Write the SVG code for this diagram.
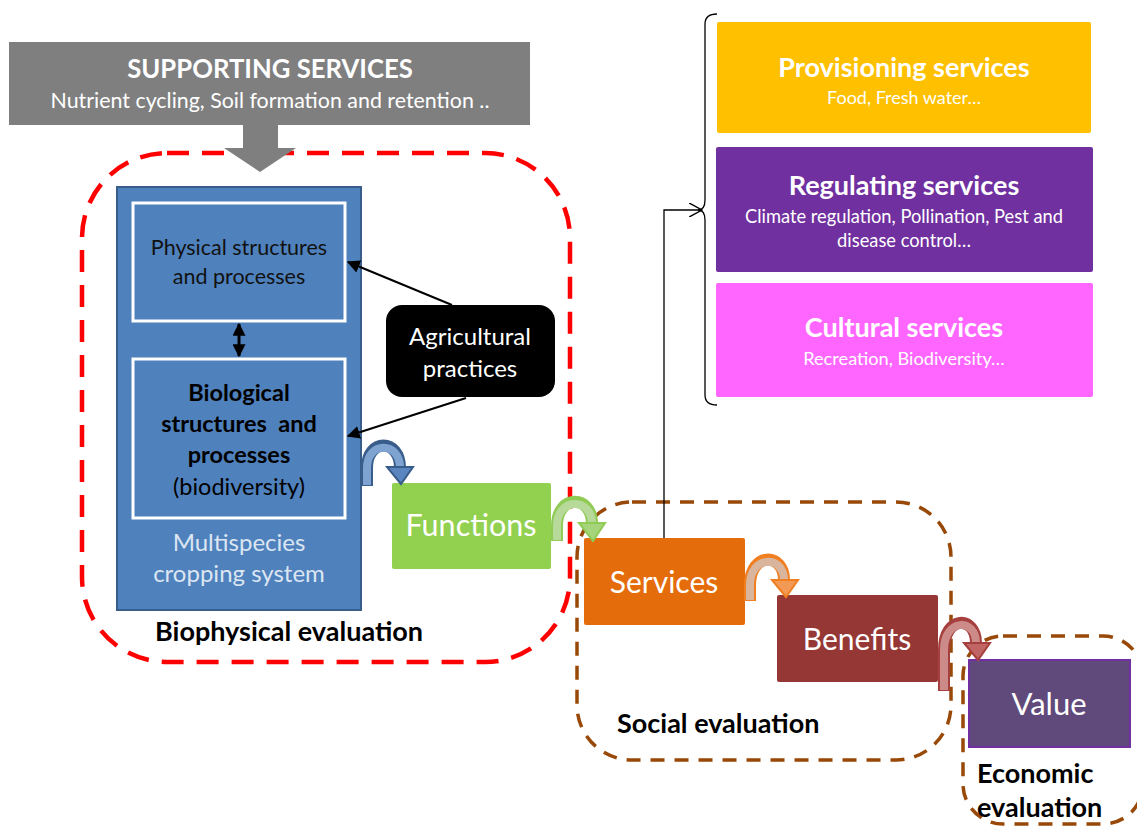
<svg xmlns="http://www.w3.org/2000/svg" width="1137" height="826" viewBox="0 0 1137 826">
<style>
text{font-family:Lato,"Open Sans","Liberation Sans",sans-serif;}
.w{fill:#fff}
.c{text-anchor:middle}
.b{font-weight:bold}
.conn{stroke:#000;stroke-width:2;fill:none}
.redd{fill:none;stroke:#FF0000;stroke-width:4.5;stroke-dasharray:22 13}
.brd{fill:none;stroke:#984807;stroke-width:3.5;stroke-dasharray:14 10}
</style>
<defs>
<marker id="ah" viewBox="0 0 10 10" refX="9" refY="5" markerWidth="13" markerHeight="13" markerUnits="userSpaceOnUse" orient="auto-start-reverse"><path d="M0,0 L10,5 L0,10 z" fill="#000"/></marker>
<marker id="oa" viewBox="0 0 12 12" refX="11" refY="6" markerWidth="14" markerHeight="14" markerUnits="userSpaceOnUse" orient="auto"><path d="M0,0 L11,6 L0,12" fill="none" stroke="#000" stroke-width="1.2"/></marker>
</defs>
<rect width="1137" height="826" fill="#fff"/>

<g id="zones">
<rect class="redd" x="82" y="153" width="488" height="509" rx="85"/>
<rect class="brd" x="577" y="502" width="374" height="258" rx="55"/>
<rect class="brd" x="963" y="636" width="180" height="188" rx="40"/>
<text x="155" y="641" font-size="27" class="b">Biophysical evaluation</text>
<text x="617" y="733" font-size="27" class="b">Social evaluation</text>
<text x="977" y="783" font-size="27" class="b">Economic</text>
<text x="977" y="817" font-size="27" class="b">evaluation</text>
</g>

<g id="supporting">
<rect x="9" y="42" width="521" height="83" fill="#7F7F7F"/>
<polygon points="243,125 278,125 278,148 296,148 260,172 224,148 243,148" fill="#7F7F7F"/>
<text x="270" y="78" font-size="25.7" class="w c b">SUPPORTING SERVICES</text>
<text x="270" y="108" font-size="21.4" class="w c">Nutrient cycling, Soil formation and retention ..</text>
</g>

<g id="cropping">
<rect x="117" y="187" width="244" height="423" fill="#4F81BD" stroke="#385D8A" stroke-width="2"/>
<text x="239" y="551" font-size="24" class="c" fill="#DCE6F2">Multispecies</text>
<text x="239" y="582" font-size="24" class="c" fill="#DCE6F2">cropping system</text>
</g>
<g id="physical">
<rect x="133" y="203" width="212" height="118" fill="#4F81BD" stroke="#fff" stroke-width="3"/>
<text x="239" y="255" font-size="21.5" class="c" fill="#111">Physical structures</text>
<text x="239" y="284" font-size="21.5" class="c" fill="#111">and processes</text>
</g>
<g id="biological">
<rect x="133" y="359" width="212" height="159" fill="#4F81BD" stroke="#fff" stroke-width="3"/>
<text x="239" y="401" font-size="23.5" class="c b" fill="#000">Biological</text>
<text x="239" y="432" font-size="23.5" class="c b" fill="#000" xml:space="preserve">structures  and</text>
<text x="239" y="463" font-size="23.5" class="c b" fill="#000">processes</text>
<text x="239" y="495" font-size="23.5" class="c" fill="#000">(biodiversity)</text>
</g>
<g id="agri">
<rect x="386" y="305" width="169" height="92" rx="16" fill="#000"/>
<text x="470" y="345" font-size="24" class="w c">Agricultural</text>
<text x="470" y="377" font-size="24" class="w c">practices</text>
</g>
<g id="functions">
<rect x="392" y="483" width="159" height="86" rx="2" fill="#92D050"/>
<text x="471" y="536" font-size="30.5" class="w c">Functions</text>
</g>
<g id="services">
<rect x="584" y="538" width="161" height="87" rx="2" fill="#E46C0A"/>
<text x="664" y="593" font-size="30" class="w c">Services</text>
</g>
<g id="benefits">
<rect x="777" y="595" width="161" height="87" rx="2" fill="#953735"/>
<text x="857" y="650" font-size="30" class="w c">Benefits</text>
</g>
<g id="value">
<rect x="969" y="660" width="161" height="87" fill="#604A7B" stroke="#7030A0" stroke-width="2"/>
<text x="1049" y="715" font-size="31" class="w c">Value</text>
</g>
<g id="provisioning">
<rect x="717" y="22" width="374" height="111" rx="2" fill="#FFC000"/>
<text x="904" y="77" font-size="27" class="w c b">Provisioning services</text>
<text x="904" y="104" font-size="18" class="w c">Food, Fresh water…</text>
</g>
<g id="regulating">
<rect x="716" y="147" width="377" height="125" rx="2" fill="#7030A0"/>
<text x="904" y="195" font-size="27" class="w c b">Regulating services</text>
<text x="904" y="223" font-size="18.3" class="w c">Climate regulation, Pollination, Pest and</text>
<text x="904" y="247" font-size="18.3" class="w c">disease control…</text>
</g>
<g id="cultural">
<rect x="716" y="283" width="377" height="114" rx="2" fill="#FF66FF"/>
<text x="904" y="337" font-size="27" class="w c b">Cultural services</text>
<text x="904" y="365" font-size="18.2" class="w c">Recreation, Biodiversity…</text>
</g>

<g id="connectors">
<line x1="239" y1="324" x2="239" y2="356" stroke="#000" stroke-width="3" marker-start="url(#ah)" marker-end="url(#ah)"/>
<line class="conn" x1="452" y1="305" x2="348" y2="262" marker-end="url(#ah)"/>
<line class="conn" x1="466" y1="398" x2="348" y2="436" marker-end="url(#ah)"/>
<path d="M664,538 L664,210 L702,210" fill="none" stroke="#000" stroke-width="1.3" marker-end="url(#oa)"/>
<path d="M717,14 Q705,14 705,24 L705,200 Q705,210 698,210 Q705,210 705,220 L705,395 Q705,405 717,405" fill="none" stroke="#000" stroke-width="1.3"/>
<path d="M367,486 L367,468 C367,438 400,438 400,468" fill="none" stroke="#385D8A" stroke-width="12"/>
<path d="M367,485 L367,468 C367,441 400,441 400,468" fill="none" stroke="#7FA3D0" stroke-width="8"/>
<polygon points="387,467 413,467 401,484" fill="#5B85BF" stroke="#385D8A" stroke-width="2"/>
<path d="M557,541 L557,526 C557,494 592,494 592,524" fill="none" stroke="#8FCB55" stroke-width="12"/>
<path d="M557,540 L557,526 C557,497 592,497 592,524" fill="none" stroke="#B7D99A" stroke-width="8"/>
<polygon points="579,523 605,523 593,541" fill="#A6D47A" stroke="#8FCB55" stroke-width="2"/>
<path d="M750,601 L750,585 C750,552 784,552 784,580" fill="none" stroke="#F07F22" stroke-width="12"/>
<path d="M750,600 L750,585 C750,555 784,555 784,580" fill="none" stroke="#D8B59C" stroke-width="8"/>
<polygon points="772,580 798,580 786,597" fill="#F29A55" stroke="#F07F22" stroke-width="2"/>
<path d="M944,691 L944,650 C944,615 976,615 976,643" fill="none" stroke="#A5403E" stroke-width="12"/>
<path d="M944,690 L944,650 C944,618 976,618 976,643" fill="none" stroke="#CC8A88" stroke-width="8"/>
<polygon points="964,643 990,643 978,660" fill="#C06563" stroke="#A5403E" stroke-width="2"/>
</g>
</svg>
